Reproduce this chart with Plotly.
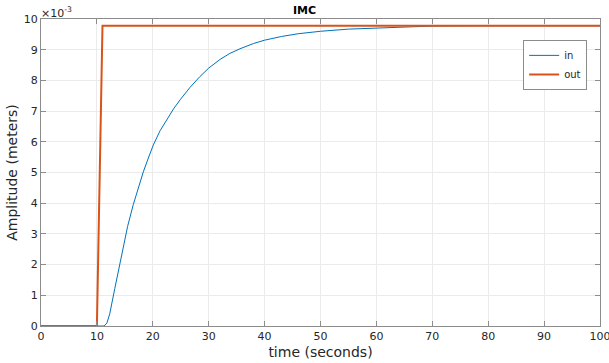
import plotly.graph_objects as go

# Data (amplitude in units of 1e-3 m)
t_in = [0, 11.3, 11.8, 12.3, 13.2, 14.0, 14.7, 15.5, 16.5, 17.4, 18.3, 19.2, 20.1,
        21.3, 22.5, 23.7, 24.9, 26.6, 28.4, 30.0, 32.0, 33.8, 35.6, 38.0, 40.0,
        43.0, 46.0, 50.0, 55.0, 60.0, 65.0, 70, 80, 100]
y_in = [0, 0, 0.10, 0.40, 1.22, 1.95, 2.60, 3.25, 3.95, 4.50, 5.02, 5.47, 5.90,
        6.36, 6.73, 7.07, 7.37, 7.76, 8.12, 8.40, 8.68, 8.88, 9.03, 9.20, 9.31,
        9.43, 9.52, 9.60, 9.67, 9.71, 9.75, 9.77, 9.78, 9.78]
t_out = [0, 10, 11, 100]
y_out = [0, 0, 9.78, 9.78]
x_ticks = [0, 10, 20, 30, 40, 50, 60, 70, 80, 90, 100]
y_ticks = [0, 1, 2, 3, 4, 5, 6, 7, 8, 9, 10]

FONT = "DejaVu Sans"
AX = "#8c8c8c"
TXT = "#262626"
GRID = "#ebebeb"

fig = go.Figure()
fig.add_trace(go.Scatter(x=t_in, y=y_in, mode="lines", name="in",
                         line=dict(color="#0072BD", width=1)))
fig.add_trace(go.Scatter(x=t_out, y=y_out, mode="lines", name="out",
                         line=dict(color="#D95319", width=2)))

axis_common = dict(showline=True, linecolor=AX, linewidth=1, mirror="ticks",
                   ticks="inside", ticklen=5, tickcolor=AX, automargin=False,
                   ticklabeloverflow="allow",
                   showgrid=True, gridcolor=GRID, gridwidth=1, zeroline=False,
                   tickfont=dict(family=FONT, size=11, color=TXT))

fig.update_layout(
    width=609, height=363,
    margin=dict(l=41, r=9, t=19, b=37),
    paper_bgcolor="white", plot_bgcolor="white",
    title=dict(text="<b>IMC</b>", x=0.5, xanchor="center", y=0.9725, yanchor="middle",
               font=dict(family=FONT, size=11, color="black")),
    xaxis=dict(range=[0, 100], tickvals=x_ticks,
               title=dict(text="time (seconds)", font=dict(family=FONT, size=14, color=TXT), standoff=4),
               **axis_common),
    yaxis=dict(range=[0, 10], tickvals=y_ticks,
               title=dict(text="Amplitude (meters)", font=dict(family=FONT, size=14, color=TXT), standoff=2),
               **axis_common),
    legend=dict(x=0.977, y=0.932, xanchor="right", yanchor="top",
                bgcolor="white", bordercolor=AX, borderwidth=1,
                font=dict(family=FONT, size=10, color=TXT),
                tracegroupgap=0, itemwidth=30),
    showlegend=True,
)
fig.add_annotation(text="×10<sup>-3</sup>", xref="paper", yref="paper", x=0.0, y=1.0,
                   xanchor="left", yanchor="bottom", showarrow=False,
                   font=dict(family=FONT, size=11, color=TXT), xshift=-2, yshift=-3)

fig.write_html("out.html", config={"displayModeBar": False},
               post_script="document.body.style.margin='0px';")
